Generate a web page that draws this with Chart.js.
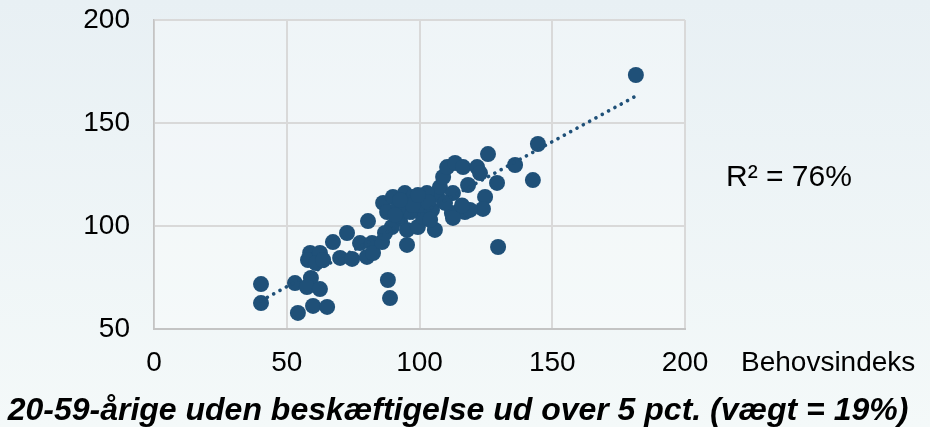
<!DOCTYPE html>
<html>
<head>
<meta charset="utf-8">
<script src="https://cdn.jsdelivr.net/npm/chart.js@4"></script>
<style>
    html, body { margin: 0; padding: 0; }
    #wrap { width: 930px; height: 427px; }
</style>
</head>
<body>
<div id="wrap"><canvas id="chart" width="930" height="427"></canvas></div>
<script>
// Behovsindeks (x) and the index on the y axis, one entry per point
const behovsindeks = [
    40.3, 40.3, 53.1, 59.1, 57.6, 62.5, 54.2, 59.9, 65.2, 58.8,
    58.0, 62.5, 61.0, 63.7, 67.4, 70.1, 74.6, 80.2, 72.7, 77.6,
    82.1, 82.5, 80.6, 85.9, 86.3, 90.0, 94.5, 97.6, 87.8, 89.6,
    95.3, 95.3, 99.4, 101.3, 92.7, 96.4, 100.9, 104.7, 105.8, 106.6,
    107.7, 108.9, 110.4, 113.4, 116.4, 112.6, 112.2, 117.1, 102.8, 125.8,
    144.6, 136.0, 142.7, 129.2, 124.7, 123.9, 119.0, 112.6, 129.6, 121.7,
    122.8, 118.3, 181.5, 88.1, 88.9, 87.0, 91.9, 97.4, 103.2, 109.6,
    92.7, 99.4, 90.8, 104.0, 116.0,
];
const indeksVaerdi = [
    71.8, 62.6, 72.3, 74.8, 70.4, 69.4, 57.8, 61.2, 60.7, 86.9,
    83.5, 86.9, 82.0, 83.5, 92.2, 84.5, 84.0, 85.0, 96.6, 91.7,
    91.7, 86.9, 102.4, 92.2, 111.2, 114.1, 116.0, 114.1, 106.8, 99.5,
    98.1, 90.8, 99.5, 104.4, 104.4, 106.8, 110.2, 107.8, 98.1, 115.0,
    118.9, 123.8, 128.6, 130.6, 128.6, 116.0, 106.3, 106.8, 116.0, 134.9,
    139.8, 129.6, 122.3, 120.9, 114.1, 108.3, 107.8, 103.9, 89.8, 128.6,
    125.7, 119.9, 173.3, 73.8, 65.0, 96.6, 108.7, 110.2, 111.7, 111.2,
    112.6, 115.0, 105.3, 103.0, 110.0,
];

// Linear trendline ends
const trendX = [40.3, 181.5];
const trendY = [63.7, 163.1];

const xTicks = [0, 50, 100, 150, 200];
const yTicks = [50, 100, 150, 200];

const titleText = "20-59-årige uden beskæftigelse ud over 5 pct. (vægt = 19%)";
const xAxisLabel = "Behovsindeks";
const rSquaredText = "R² = 76%";

const FONT = '"Liberation Sans", Arial, sans-serif';
const DOT = "#1f5078";

const points = behovsindeks.map((x, i) => ({ x, y: indeksVaerdi[i] }));
const trend = trendX.map((x, i) => ({ x, y: trendY[i] }));

// Background gradient and a slightly lighter plot area
const backdrop = {
    id: "backdrop",
    beforeDraw(chart) {
        const { ctx, chartArea: a, width, height } = chart;
        const g = ctx.createLinearGradient(0, 0, 0, height);
        g.addColorStop(0, "#e8f0f4");
        g.addColorStop(1, "#f4f9f9");
        ctx.save();
        ctx.fillStyle = g;
        ctx.fillRect(0, 0, width, height);
        ctx.fillStyle = "rgba(255,255,255,0.3)";
        ctx.fillRect(a.left, a.top, a.right - a.left, a.bottom - a.top);
        ctx.restore();
    },
};

// Free-standing texts: axis name, R² and the caption underneath
const texts = {
    id: "texts",
    afterDraw(chart) {
        const ctx = chart.ctx;
        ctx.save();
        ctx.fillStyle = "#000";
        ctx.textBaseline = "alphabetic";

        ctx.font = `28px ${FONT}`;
        ctx.textAlign = "left";
        ctx.fillText(xAxisLabel, 741, 371);

        ctx.font = `30px ${FONT}`;
        ctx.fillText(rSquaredText, 726, 186);

        ctx.font = `italic bold 32px ${FONT}`;
        ctx.textAlign = "center";
        ctx.fillText(titleText, 458, 420);
        ctx.restore();
    },
};

new Chart(document.querySelector("#chart"), {
    type: "scatter",
    data: {
        datasets: [
            {
                label: "Trend",
                data: trend,
                showLine: true,
                pointRadius: 0,
                borderColor: DOT,
                borderWidth: 3.6,
                borderDash: [0.1, 7.1],
                borderCapStyle: "round",
            },
            {
                label: "Kommuner",
                data: points,
                pointRadius: 8,
                pointBackgroundColor: DOT,
                pointBorderWidth: 0,
                borderColor: DOT,
            },
        ],
    },
    options: {
        responsive: false,
        animation: false,
        devicePixelRatio: 1,
        layout: {
            padding: { top: 20, right: 245, bottom: 0, left: 0 },
        },
        plugins: {
            legend: { display: false },
            tooltip: { enabled: false },
        },
        scales: {
            x: {
                type: "linear",
                min: 0,
                max: 200,
                afterBuildTicks: (scale) => {
                    scale.ticks = xTicks.map((value) => ({ value }));
                },
                afterFit: (scale) => {
                    scale.height = 98;
                },
                ticks: {
                    color: "#000",
                    padding: 17,
                    font: { family: FONT, size: 28 },
                },
                grid: { color: "#d9d9d9", lineWidth: 2, drawTicks: false },
                border: { color: "#c4c4c4", width: 2 },
            },
            y: {
                type: "linear",
                min: 50,
                max: 200,
                afterBuildTicks: (scale) => {
                    scale.ticks = yTicks.map((value) => ({ value }));
                },
                afterFit: (scale) => {
                    // keep the plot top fixed by the layout padding alone
                    scale.width = 154;
                    scale.paddingTop = 0;
                    scale.paddingBottom = 0;
                },
                ticks: {
                    color: "#000",
                    padding: 24,
                    font: { family: FONT, size: 28 },
                },
                grid: { color: "#d9d9d9", lineWidth: 2, drawTicks: false },
                border: { color: "#c4c4c4", width: 1.5 },
            },
        },
    },
    plugins: [backdrop, texts],
});
</script>
</body>
</html>
